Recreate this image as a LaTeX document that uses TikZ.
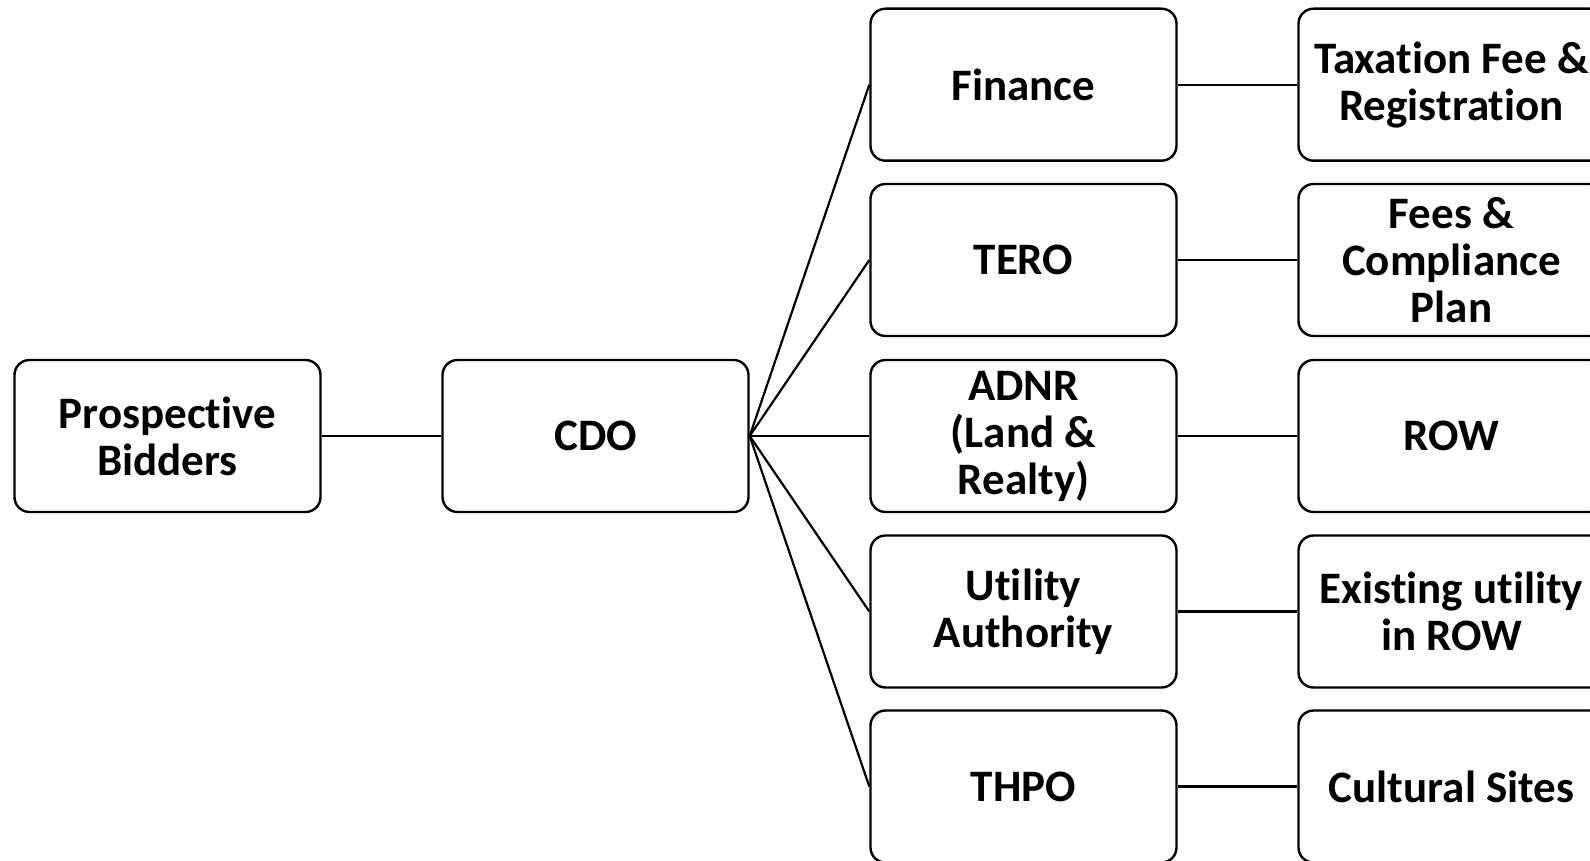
\documentclass[tikz,border=0pt]{standalone}
\usepackage{fontspec}
\setmainfont{Carlito}[Ligatures=NoCommon]
\begin{document}
\begin{tikzpicture}[x=1pt,y=-1pt,
  box/.style={draw,line width=2.4pt,rounded corners=15pt,minimum width=306pt,minimum height=152pt,
    align=center,font=\fontsize{45}{47}\selectfont\bfseries,inner sep=0pt},
  link/.style={line width=2.2pt}]
\useasboundingbox (0,0) rectangle (1590,861);
\clip (0,0) rectangle (1590,861);
\node[box] (pb) at (167.5,436) {Prospective\\Bidders};
\node[box] (cdo) at (595.5,436) {CDO};
\node[box] (fin) at (1023.5,84.7) {Finance};
\node[box] (tero) at (1023.5,260) {TERO};
\node[box] (adnr) at (1023.5,436) {ADNR\\(Land \&\\Realty)};
\node[box] (util) at (1023.5,611.5) {Utility\\Authority};
\node[box] (thpo) at (1023.5,786.5) {THPO};
\node[box] (tax) at (1451.5,84.7) {Taxation Fee \&\\Registration};
\node[box] (fees) at (1451.5,260) {Fees \&\\Compliance\\Plan};
\node[box] (row) at (1451.5,436) {ROW};
\node[box] (exist) at (1451.5,611.5) {Existing utility\\in ROW};
\node[box] (cult) at (1451.5,786.5) {Cultural Sites};
\draw[link] (pb.east) -- (cdo.west);
\foreach \n in {fin,tero,adnr,util,thpo} \draw[link] (cdo.east) -- (\n.west);
\draw[link] (fin) -- (tax);
\draw[link] (tero) -- (fees);
\draw[link] (adnr) -- (row);
\draw[link] (util) -- (exist);
\draw[link] (thpo) -- (cult);
\end{tikzpicture}
\end{document}
